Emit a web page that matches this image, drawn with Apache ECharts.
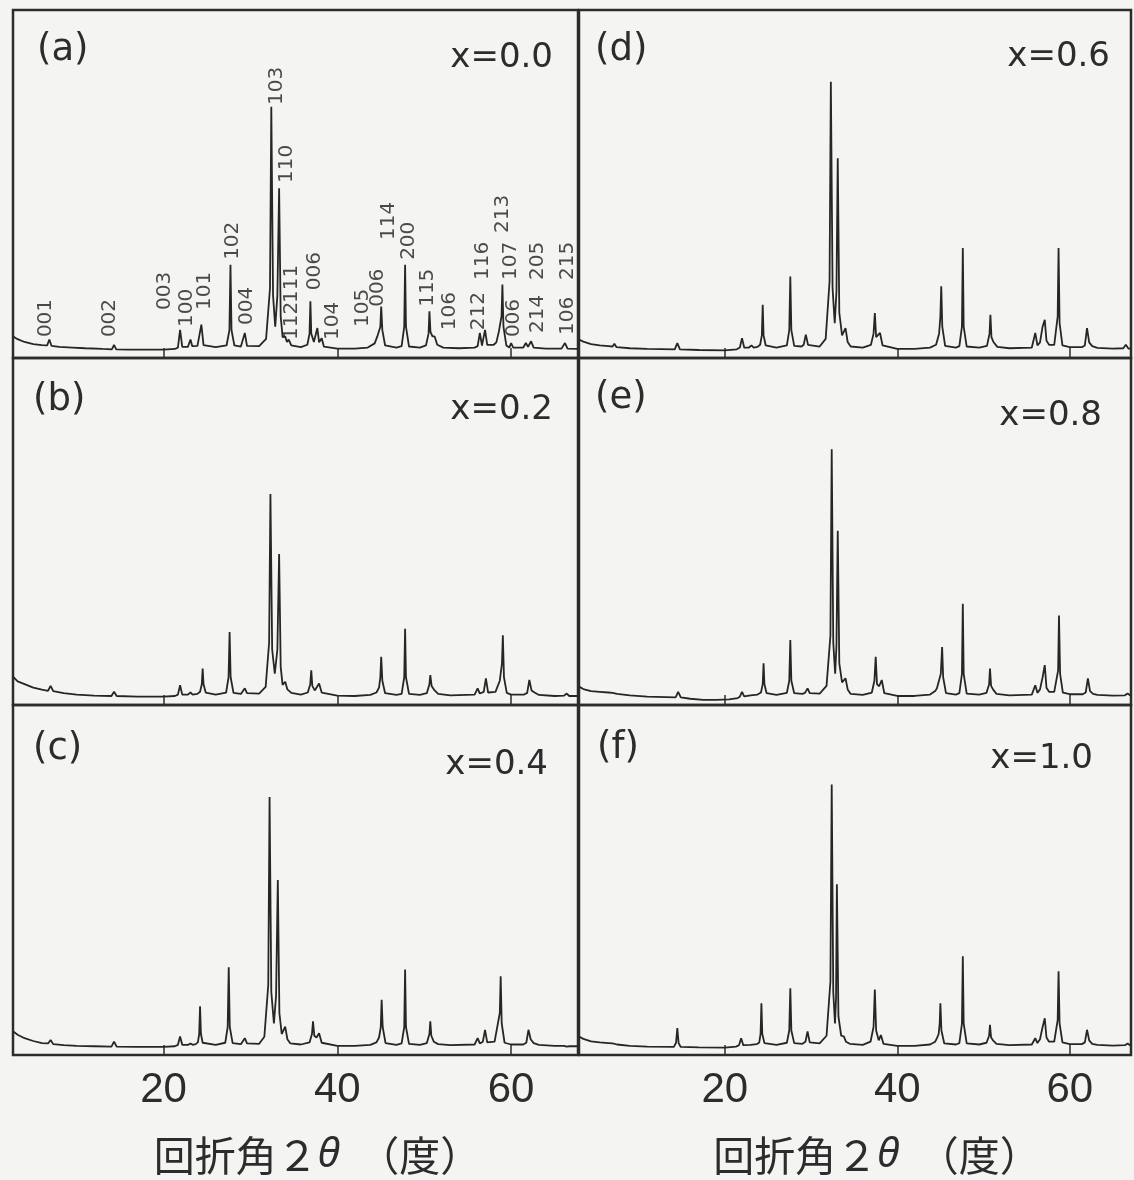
<!DOCTYPE html>
<html><head><meta charset="utf-8">
<script src="https://cdn.jsdelivr.net/npm/echarts@6/dist/echarts.min.js"></script>
<style>html,body{margin:0;padding:0;background:#f4f4f2}#c{width:1134px;height:1180px}</style>
</head><body><div id="c"></div>
<script>
// ---------- data (2θ in degrees, intensity in % of panel height) ----------
const tickValues = [20, 40, 60];
const panelNames = ['(a)', '(b)', '(c)', '(d)', '(e)', '(f)'];
const compositions = ['x=0.0', 'x=0.2', 'x=0.4', 'x=0.6', 'x=0.8', 'x=1.0'];

const xrdA = [[2.7,6.2],[3.2,5.4],[4,4.6],[5,4.0],[6,3.7],[6.6,3.6],[6.85,5.3],[7.1,3.5],[8,3.2],[9.5,3.0],[11,2.8],[13,2.6],[14.05,2.5],[14.3,3.8],[14.55,2.5],[16,2.4],[18,2.4],[20,2.4],[21.3,2.6],
[21.65,3.0],[21.9,8.1],[22.15,3.2],[22.8,3.2],[22.9,3.3],[23.1,5.3],[23.3,3.4],[23.9,3.5],[24.1,3.8],[24.35,9.6],[24.6,3.7],[26,3.1],
[27.25,3.6],[27.58,8],[27.7,26.8],[27.82,8],[28.15,3.6],[28.9,3.3],[29.1,3.5],[29.35,7.2],[29.6,3.5],[31,3.4],
[31.8,5.5],[32.25,20],[32.4,72.2],[32.6,18],[32.85,9],[33.1,18],[33.3,48.8],[33.48,12],[33.7,6.0],[34.0,6.2],[34.2,4.6],[34.4,5.3],[34.7,3.6],[35.8,3.1],
[36.55,3.8],[36.8,7],[36.9,16.3],[37.0,7],[37.3,4.6],[37.5,5.0],[37.7,8.6],[37.9,4.5],[38.2,5.7],[38.45,3.3],[40,2.7],[42,2.7],[43.5,3.0],
[44.3,4.2],[44.6,6.2],[44.8,6.5],[44.95,9],[45.05,14.8],[45.18,8],[45.5,3.6],[46.8,3.0],[47.4,3.4],[47.7,9],[47.8,26.8],[47.9,9],[48.25,3.3],[49.5,3.0],
[50.2,3.6],[50.5,7],[50.6,13.4],[50.72,7.5],[50.95,6.2],[51.2,6.2],[51.5,3.8],[52.2,3.0],[54,2.8],[55.8,3.0],
[56.15,3.4],[56.4,7.2],[56.65,3.6],[56.8,4],[57.0,8.1],[57.25,3.8],[58.0,3.8],[58.3,4.5],[58.6,7.7],[58.8,8],[58.9,12],[59.0,21.1],[59.12,9],[59.45,3.6],
[59.8,3.0],[60.0,4.3],[60.25,3.0],[61.4,3.0],[61.7,4.3],[61.95,3.2],[62.3,4.8],[62.6,3.0],[64,2.7],[65.8,2.7],[66.2,4.3],[66.5,2.7],[67.7,2.6]];

const xrdB = [[2.7,8.1],[3.2,6.8],[4,6.0],[5,5.0],[6,4.4],[6.7,4.1],[7.0,5.5],[7.3,4.0],[8.5,3.4],[10,3.0],[12,2.7],[14.0,2.6],[14.3,3.8],[14.6,2.6],[17,2.4],[20,2.4],[21.3,2.6],
[21.65,3.0],[21.9,5.7],[22.15,3.0],[22.8,3.0],[23.1,3.6],[23.35,3.0],[23.9,3.2],[24.2,3.8],[24.4,6],[24.5,10.5],[24.6,6],[24.85,3.6],[26,3.0],
[27.2,3.6],[27.48,8],[27.6,21.0],[27.72,8],[28.05,3.5],[28.9,3.2],[29.1,3.4],[29.35,4.8],[29.6,3.4],[31,3.3],
[31.75,5.2],[32.15,18],[32.3,60.8],[32.5,16],[32.8,9],[33.1,16],[33.3,43.5],[33.48,11],[33.7,5.8],[34.0,6.7],[34.25,4.5],[34.45,4.6],[34.7,3.5],[35.8,3.0],
[36.6,3.6],[36.88,6],[37.0,10.0],[37.12,5.5],[37.4,4.2],[37.6,4.4],[37.9,6.2],[38.2,3.6],[40,2.7],[42,2.6],[43.8,2.9],
[44.5,3.6],[44.8,5],[44.95,8],[45.05,13.9],[45.18,7],[45.5,3.4],[46.8,2.9],[47.4,3.2],[47.7,8],[47.8,22.0],[47.9,8],[48.25,3.2],[49.5,2.9],
[50.3,3.4],[50.6,6],[50.7,8.6],[50.85,5.5],[51.0,5.6],[51.2,4.2],[51.6,3.2],[53,2.8],[55.8,3.0],
[55.95,3.2],[56.15,4.8],[56.4,3.3],[56.85,3.8],[57.1,7.7],[57.35,3.6],[58.2,3.8],[58.7,7],[58.95,12],[59.05,20.1],[59.18,8],[59.5,3.5],
[60.0,3.0],[61.5,3.0],[61.85,3.5],[62.1,7.2],[62.35,4.2],[62.7,3.6],[63.2,2.9],[65,2.6],[66.1,2.7],[66.4,3.3],[66.7,2.6],[67.7,2.6]];

const xrdC = [[2.7,6.7],[3.2,5.8],[4,4.8],[5,4.0],[6,3.4],[6.7,3.3],[7.0,4.3],[7.3,3.1],[8.5,2.8],[10,2.6],[12,2.5],[14.0,2.4],[14.3,3.8],[14.6,2.4],[17,2.3],[20,2.3],[21.3,2.5],
[21.65,2.9],[21.9,5.3],[22.15,2.9],[22.8,2.9],[23.1,3.3],[23.35,2.9],[23.7,3.1],[23.95,3.6],[24.1,6],[24.2,13.9],[24.3,6],[24.5,3.5],[26,2.9],
[27.1,3.5],[27.38,8],[27.5,25.1],[27.62,8],[27.95,3.4],[28.9,3.1],[29.1,3.3],[29.35,4.8],[29.6,3.3],[31,3.2],
[31.6,5.2],[32.05,20],[32.2,73.7],[32.4,18],[32.7,9],[32.95,17],[33.15,50.0],[33.33,12],[33.6,6],[33.8,6.5],[34.0,8.1],[34.25,4.5],[34.6,3.3],[35.8,3.0],
[36.8,3.6],[37.08,6],[37.2,9.6],[37.35,5.5],[37.6,5.0],[37.9,6.2],[38.2,3.5],[40,2.6],[42,2.6],[43.8,2.9],
[44.5,3.6],[44.8,5],[45.0,8],[45.1,15.8],[45.22,8],[45.55,3.4],[46.8,2.9],[47.4,3.3],[47.7,8],[47.8,24.4],[47.9,8],[48.25,3.2],[49.5,2.9],
[50.3,3.4],[50.6,6],[50.7,9.6],[50.82,5.5],[51.1,3.8],[51.6,3.1],[53,2.8],[55.8,3.0],
[55.95,3.2],[56.15,4.8],[56.4,3.3],[56.75,3.8],[57.0,7.2],[57.25,3.6],[58.1,3.8],[58.7,12],[58.8,22.5],[58.92,9],[59.25,3.5],
[60.0,3.0],[61.4,3.0],[61.75,3.5],[62.0,7.2],[62.25,4.5],[62.6,3.4],[63.2,2.9],[65,2.6],[66.1,2.6],[66.4,2.4],[66.7,2.5],[67.7,2.5]];

const xrdD = [[3.1,5.3],[3.6,4.7],[4.5,4.0],[5.5,3.6],[6.5,3.4],[7.0,3.3],[7.2,4.1],[7.45,3.1],[9,2.8],[11,2.6],[14.2,2.5],[14.5,4.3],[14.8,2.5],[17,2.3],[20,2.2],[21.4,2.5],
[21.75,3.0],[22.0,5.7],[22.25,3.0],[22.8,3.0],[23.1,3.6],[23.35,3.0],[23.8,3.2],[24.1,3.8],[24.3,6.5],[24.4,15.3],[24.5,6.5],[24.75,3.6],[26,3.0],
[27.2,3.6],[27.48,8],[27.6,23.4],[27.72,8],[28.05,3.5],[28.9,3.3],[29.15,3.8],[29.4,6.7],[29.65,3.8],[31,3.3],
[31.7,5.5],[32.15,22],[32.3,79.4],[32.5,20],[32.75,10],[32.95,19],[33.1,57.4],[33.28,13],[33.6,6.5],[33.8,6.8],[34.0,8.6],[34.25,4.6],[34.6,3.3],[36,3.0],
[36.95,3.8],[37.25,7],[37.4,12.9],[37.55,6],[37.75,5.5],[38.0,7.2],[38.3,3.6],[40,2.6],[42,2.6],[43.8,3.0],
[44.5,3.8],[44.85,7],[45.0,12],[45.1,20.6],[45.22,9],[45.55,3.5],[46.8,3.0],[47.2,3.4],[47.5,9],[47.6,31.6],[47.7,9],[48.05,3.3],[49.5,3.0],
[50.4,3.5],[50.7,7],[50.8,12.4],[50.92,6],[51.15,4.6],[51.6,3.2],[53,2.8],[55.6,3.0],
[55.8,3.4],[56.0,7.2],[56.25,3.6],[56.55,4.5],[56.85,9],[57.1,11.0],[57.3,5],[57.6,3.8],[58.2,3.8],[58.6,12],[58.7,31.6],[58.82,10],[59.15,3.6],
[60.0,3.1],[61.4,3.1],[61.75,3.6],[62.0,8.6],[62.25,4.5],[62.6,3.4],[63.2,2.9],[65,2.7],[66.2,2.8],[66.5,3.8],[66.8,2.7],[67.1,2.7]];

const xrdE = [[3.1,5.3],[3.6,4.6],[4.5,4.0],[5.5,3.8],[6.5,3.6],[7.0,3.5],[7.2,3.8],[7.5,3.2],[9,2.8],[11,2.4],[14.3,2.2],[14.6,3.8],[14.9,2.2],[16,1.8],[17.5,1.5],[19,1.5],[20.5,1.6],[21.5,2.0],
[21.75,2.4],[22.0,3.8],[22.25,2.5],[23.0,2.8],[23.8,3.0],[24.2,3.6],[24.4,6],[24.5,12.0],[24.6,6],[24.85,3.4],[26,2.9],
[27.2,3.5],[27.48,7],[27.6,18.7],[27.72,7],[28.05,3.4],[29.0,3.2],[29.3,3.5],[29.6,4.8],[29.85,3.4],[31,3.3],
[31.8,5.5],[32.25,20],[32.4,73.7],[32.58,18],[32.8,9],[32.95,17],[33.1,50.2],[33.28,12],[33.6,6.5],[33.8,6.5],[34.0,7.7],[34.25,4.5],[34.6,3.2],[36,2.9],
[37.05,3.6],[37.35,7],[37.5,13.9],[37.65,6],[37.9,5.4],[38.2,7.2],[38.5,3.4],[40,2.6],[42,2.6],[43.8,3.0],
[44.4,4.0],[44.6,4.8],[44.8,5],[45.05,9],[45.2,16.7],[45.32,8],[45.65,3.4],[46.8,3.0],[47.2,3.4],[47.5,9],[47.6,29.2],[47.7,9],[48.05,3.3],[49.5,3.0],
[50.35,3.5],[50.65,6],[50.75,10.5],[50.88,5.5],[51.1,4.5],[51.5,3.2],[53,2.8],[55.6,3.0],
[55.8,3.3],[56.0,5.7],[56.25,3.5],[56.55,4.5],[56.85,8],[57.1,11.5],[57.3,5],[57.6,3.8],[58.2,3.8],[58.65,10],[58.75,25.8],[58.88,9],[59.2,3.6],
[60.0,3.1],[61.5,3.1],[61.85,3.6],[62.1,7.7],[62.35,4.0],[62.7,3.2],[63.2,2.9],[65,2.7],[66.4,2.8],[66.7,3.3],[67.0,2.8],[67.1,2.8]];

const xrdF = [[3.1,5.3],[3.6,4.6],[4.5,3.9],[5.5,3.6],[6.5,3.4],[7.0,3.3],[7.2,3.8],[7.5,3.0],[9,2.6],[11,2.4],[14.1,2.3],[14.35,3.5],[14.5,7.7],[14.65,3.4],[14.9,2.3],[17,2.2],[20,2.1],[21.3,2.4],
[21.65,2.8],[21.9,4.8],[22.15,2.8],[23.0,2.9],[23.7,3.1],[24.0,3.6],[24.15,6],[24.25,14.8],[24.35,6],[24.6,3.4],[26,2.9],
[27.2,3.5],[27.48,7],[27.6,19.1],[27.72,7],[28.05,3.4],[29.0,3.2],[29.35,3.8],[29.6,6.7],[29.85,3.6],[31,3.3],
[31.8,5.5],[32.25,21],[32.4,77.3],[32.58,18],[32.78,9],[32.9,16],[33.0,48.8],[33.18,11],[33.5,5.5],[33.8,5.3],[34.05,3.8],[34.5,3.2],[36,2.9],
[36.9,3.8],[37.25,8],[37.4,18.7],[37.55,7],[37.85,4.2],[38.1,5.7],[38.4,3.2],[40,2.6],[42,2.6],[43.8,3.0],
[44.4,3.8],[44.6,4.8],[44.8,6],[44.92,9],[45.0,14.8],[45.12,7],[45.45,3.3],[46.8,3.0],[47.2,3.4],[47.5,9],[47.6,28.2],[47.7,9],[48.05,3.3],[49.5,3.0],
[50.35,3.5],[50.65,5.5],[50.75,8.6],[50.88,5],[51.1,4.2],[51.5,3.2],[53,2.8],[55.6,3.0],
[55.8,3.3],[56.0,4.8],[56.25,3.4],[56.55,4.5],[56.85,8],[57.1,10.5],[57.3,5],[57.6,3.8],[58.2,3.8],[58.6,10],[58.7,23.9],[58.82,9],[59.15,3.6],
[60.0,3.1],[61.4,3.1],[61.75,3.6],[62.0,7.2],[62.25,4.2],[62.6,3.2],[63.2,2.9],[65,2.7],[66.4,2.8],[66.7,3.3],[67.0,2.8],[67.1,2.8]];

// Miller indices in panel (a): text, 2θ of label, intensity at the label's lower end
const hklText = ['001','002','003','100','101','102','004','103','110','112','111','006','104','105','006','114','200','115','106','212','116','213','107','006','205','214','215','106'];
const hklX    = [6.45,13.76,20.1,22.66,24.7,27.97,29.6,33.05,34.2,34.8,34.8,37.4,39.5,42.9,44.6,45.9,48.2,50.4,53.0,56.3,56.7,59.0,60.0,60.3,63.1,63.1,66.5,66.5];
const hklY    = [6.0,6.0,13.8,8.9,13.8,28.2,9.5,72.7,50.3,5.2,15.8,19.5,5.2,8.9,14.7,33.9,28.2,14.7,8.0,8.0,22.4,35.9,22.4,6.0,22.4,7.2,22.4,6.6];

// ---------- layout ----------
const spectra = [xrdA, xrdB, xrdC, xrdD, xrdE, xrdF];
const cols = [{left: 13, width: 565, min: 2.67, max: 67.7}, {left: 579, width: 552, min: 3.1, max: 67.1}];
const rows = [{top: 10, height: 348}, {top: 358, height: 347}, {top: 705, height: 350}];
const labelPos = [[37, 50], [33, 400], [33, 749], [595, 50], [595, 398], [597, 748]];
const compPos = [[553, 58], [553, 410], [548, 765], [1110, 57], [1102, 416], [1093, 759]];
const ink = '#262626';

const grids = [], xAxes = [], yAxes = [], series = [], graphics = [];
for (let i = 0; i < 6; i++) {
  const c = cols[Math.floor(i / 3)], r = rows[i % 3];
  const bottomRow = (i % 3) === 2;
  grids.push({left: c.left, top: r.top, width: c.width, height: r.height, show: true,
    borderColor: '#2c2c2c', borderWidth: 2.5, backgroundColor: 'transparent'});
  xAxes.push({type: 'value', gridIndex: i, min: c.min, max: c.max,
    axisLine: {show: false}, splitLine: {show: false},
    axisTick: {show: true, inside: true, length: 10, customValues: tickValues, lineStyle: {color: '#2c2c2c', width: 1.5}},
    axisLabel: {show: bottomRow, customValues: tickValues, fontSize: 42, fontFamily: 'Liberation Sans', color: '#2c2c2c', margin: 14},
    name: bottomRow ? '回折角２{i|θ}  （度）' : '', nameLocation: 'middle', nameGap: 80,
    nameTextStyle: {fontSize: 41, fontFamily: 'Noto Sans CJK JP', color: '#2c2c2c', padding: [0, 0, 0, 44],
      rich: {i: {fontSize: 41, fontStyle: 'italic', fontFamily: 'Noto Sans', color: '#2c2c2c'}}}});
  yAxes.push({type: 'value', gridIndex: i, min: 0, max: 100, show: false});
  series.push({type: 'line', xAxisIndex: i, yAxisIndex: i, data: spectra[i], showSymbol: false,
    symbol: 'none', silent: true, lineStyle: {color: ink, width: 1.8}, animation: false});
  graphics.push({type: 'text', x: labelPos[i][0], y: labelPos[i][1],
    style: {text: panelNames[i], font: '37px "DejaVu Sans"', fill: '#2c2c2c', textAlign: 'left', align: 'left', textVerticalAlign: 'middle', verticalAlign: 'middle'}});
  graphics.push({type: 'text', x: compPos[i][0], y: compPos[i][1],
    style: {text: compositions[i], font: '34px "DejaVu Sans"', fill: '#2c2c2c', textAlign: 'right', align: 'right', textVerticalAlign: 'middle', verticalAlign: 'middle'}});
}
series.push({type: 'scatter', xAxisIndex: 0, yAxisIndex: 0, symbolSize: 1, silent: true, animation: false,
  itemStyle: {color: 'rgba(0,0,0,0)'},
  data: hklText.map((t, k) => [hklX[k], hklY[k], t]),
  label: {show: true, position: 'inside', rotate: 90, align: 'left', verticalAlign: 'middle',
    formatter: p => p.value[2], fontSize: 20, fontFamily: 'DejaVu Sans', color: '#1e1e1e'}});

const chart = echarts.init(document.getElementById('c'), null, {renderer: 'canvas'});
chart.setOption({backgroundColor: '#f4f4f2', animation: false, grid: grids, xAxis: xAxes, yAxis: yAxes, series: series, graphic: graphics});
</script></body></html>
